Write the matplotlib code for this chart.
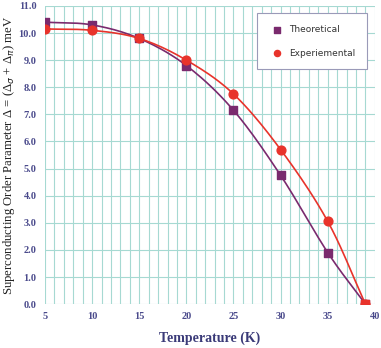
import numpy as np
import matplotlib
matplotlib.use("Agg")
import matplotlib.pyplot as plt

temps = [5, 10, 15, 20, 25, 30, 35, 39]
theoretical = [10.4, 10.3, 9.8, 8.8, 7.15, 4.75, 1.9, 0.0]
experimental = [10.15, 10.1, 9.8, 9.0, 7.75, 5.7, 3.05, 0.0]


def smooth(x, y, n=20):
    # catmull-rom through the points, for a smoothed line like the original
    x = np.asarray(x, float)
    y = np.asarray(y, float)
    px = np.concatenate([[2 * x[0] - x[1]], x, [2 * x[-1] - x[-2]]])
    py = np.concatenate([[2 * y[0] - y[1]], y, [2 * y[-1] - y[-2]]])
    xs, ys = [], []
    t = np.linspace(0, 1, n)
    for i in range(1, len(px) - 2):
        for arr, out in ((px, xs), (py, ys)):
            p0, p1, p2, p3 = arr[i - 1], arr[i], arr[i + 1], arr[i + 2]
            out.extend(0.5 * (2 * p1 + (-p0 + p2) * t
                              + (2 * p0 - 5 * p1 + 4 * p2 - p3) * t ** 2
                              + (-p0 + 3 * p1 - 3 * p2 + p3) * t ** 3))
    return xs, ys


purple = "#7a2a6e"
red = "#e8332b"
grid = "#a6d9d2"
tickc = "#4b4b8c"
serif = "Liberation Serif"

fig = plt.figure(figsize=(3.81, 3.48), dpi=100)
ax = fig.add_axes([0.118, 0.126, 0.866, 0.857])

ax.set_xlim(5, 40)
ax.set_ylim(0, 11)
ax.set_xticks(range(5, 41, 1), minor=True)
ax.set_xticks(range(5, 41, 5))
ax.set_yticks(range(0, 12))
ax.set_yticklabels(["%.1f" % v for v in range(0, 12)])
ax.grid(True, which="both", color=grid, linewidth=0.8)
ax.set_axisbelow(True)
for s in ax.spines.values():
    s.set_visible(False)
ax.tick_params(which="both", length=0, pad=6)
for lab in ax.get_xticklabels() + ax.get_yticklabels():
    lab.set_fontfamily(serif)
    lab.set_fontweight("bold")
    lab.set_fontsize(7.5)
    lab.set_color(tickc)

sx, sy = smooth(temps, theoretical)
ax.plot(sx, sy, color=purple, lw=1.2)
sx, sy = smooth(temps, experimental)
ax.plot(sx, sy, color=red, lw=1.2)
ax.scatter(temps, theoretical, marker="s", s=40, color=purple, zorder=3, label="Theoretical")
ax.scatter(temps, experimental, marker="o", s=40, color=red, zorder=4, label="Experiemental")
ax.scatter([39], [0.0], marker="s", s=40, color=red, zorder=5)

leg = ax.legend(loc="upper right", bbox_to_anchor=(0.99, 0.99), fontsize=6.5,
                frameon=True, fancybox=False, edgecolor="#9a9ab8",
                borderpad=1.3, labelspacing=1.6, handletextpad=0.3,
                markerscale=0.7, scatterpoints=1, framealpha=1)
leg.get_frame().set_linewidth(0.8)
for t in leg.get_texts():
    t.set_color("#333333")

ax.set_xlabel("Temperature (K)", fontfamily=serif, fontweight="bold",
              fontsize=10, color="#3a3a78", labelpad=7)
ax.set_ylabel("Superconducting Order Parameter \u0394 = (\u0394$_\\sigma$ + \u0394$_\\pi$) meV",
              fontfamily=serif, fontsize=9.2, color="#222222", va="center")
ax.yaxis.set_label_coords(-0.11, 0.5)

fig.savefig("out.png", dpi=100, facecolor="white")
